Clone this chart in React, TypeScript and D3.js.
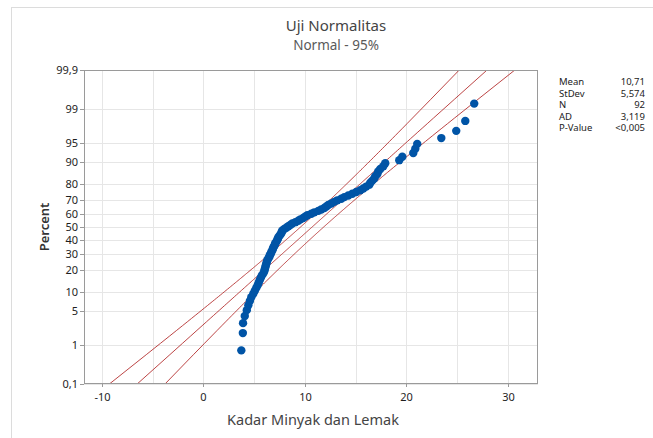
import * as d3 from 'd3';
import React from 'react';

// sample values (Kadar Minyak dan Lemak), sorted
const sampleValues = [
  3.74, 3.91, 3.89, 4.08, 4.28, 4.43, 4.58, 4.72, 4.92, 5.07,
  5.22, 5.36, 5.46, 5.56, 5.66, 5.76, 5.91, 6.0, 6.05, 6.1,
  6.15, 6.2, 6.25, 6.3, 6.4, 6.5, 6.54, 6.64, 6.69, 6.79,
  6.84, 6.89, 6.99, 7.04, 7.09, 7.19, 7.28, 7.33, 7.38, 7.48,
  7.58, 7.68, 7.73, 7.78, 7.97, 8.17, 8.37, 8.56, 8.76, 9.06,
  9.35, 9.55, 9.84, 10.04, 10.24, 10.63, 10.93, 11.32, 11.61, 11.91,
  12.11, 12.3, 12.6, 12.89, 13.19, 13.58, 13.88, 14.27, 14.67, 15.06,
  15.45, 15.75, 16.04, 16.34, 16.44, 16.63, 16.83, 16.93, 17.13, 17.22,
  17.42, 17.72, 17.91, 19.29, 19.59, 20.67, 20.87, 21.06, 23.43, 24.9,
  25.79, 26.67,
];

const fitMean = 10.71;
const fitStDev = 5.574;

const xTicks = [-10, 0, 10, 20, 30];
const xGrid = [-10, -5, 0, 5, 10, 15, 20, 25, 30];
const yTicks = [0.1, 1, 5, 10, 20, 30, 40, 50, 60, 70, 80, 90, 95, 99, 99.9];

const statLabels = ['Mean', 'StDev', 'N', 'AD', 'P-Value'];
const statValues = ['10,71', '5,574', '92', '3,119', '<0,005'];

// inverse normal cdf (Acklam)
function probit(p: number) {
  const a = [-39.6968302866538, 220.946098424521, -275.928510446969, 138.357751867269, -30.6647980661472, 2.50662827745924];
  const b = [-54.4760987982241, 161.585836858041, -155.698979859887, 66.8013118877197, -13.2806815528857];
  const c = [-0.00778489400243029, -0.322396458041136, -2.40075827716184, -2.54973253934373, 4.37466414146497, 2.93816398269878];
  const d = [0.00778469570904146, 0.32246712907004, 2.445134137143, 3.75440866190742];
  const pl = 0.02425;
  let q, r;
  if (p < pl) {
    q = Math.sqrt(-2 * Math.log(p));
    return (((((c[0] * q + c[1]) * q + c[2]) * q + c[3]) * q + c[4]) * q + c[5]) /
      ((((d[0] * q + d[1]) * q + d[2]) * q + d[3]) * q + 1);
  }
  if (p > 1 - pl) {
    q = Math.sqrt(-2 * Math.log(1 - p));
    return -(((((c[0] * q + c[1]) * q + c[2]) * q + c[3]) * q + c[4]) * q + c[5]) /
      ((((d[0] * q + d[1]) * q + d[2]) * q + d[3]) * q + 1);
  }
  q = p - 0.5;
  r = q * q;
  return (((((a[0] * r + a[1]) * r + a[2]) * r + a[3]) * r + a[4]) * r + a[5]) * q /
    (((((b[0] * r + b[1]) * r + b[2]) * r + b[3]) * r + b[4]) * r + 1);
}

const W = 653;
const H = 438;
const plot = { left: 84, right: 538, top: 70, bottom: 384 };

const font = '"Noto Sans", "Open Sans", sans-serif';

export default function App() {
  const x = d3.scaleLinear().domain([-11.75, 32.95]).range([plot.left, plot.right]);
  const y = d3
    .scaleLinear()
    .domain([probit(0.001), probit(0.999)])
    .range([plot.bottom, plot.top]);

  const n = sampleValues.length;
  const sorted = [...sampleValues].sort((a, b) => a - b);
  const points = sorted.map((v, i) => ({ v, z: probit((i + 1 - 0.3) / (n + 0.4)) }));

  // fitted line and 95% confidence band
  const zs = d3.range(0, 201).map(i => probit(0.001 + (0.998 * i) / 200));
  const band = (k: number) =>
    zs.map(z => ({
      z,
      v: fitMean + z * fitStDev + k * 1.96 * fitStDev * Math.sqrt((1 + (z * z) / 2) / n),
    }));
  const line = d3
    .line<{ z: number; v: number }>()
    .x(d => x(d.v))
    .y(d => y(d.z));

  const fmt = (p: number) => String(p).replace('.', ',');

  return (
    <svg
      width={W}
      height={H}
      style={{ position: 'absolute', left: 0, top: 0, background: '#fff' }}
      fontFamily={font}
    >
      <rect x={11.5} y={7.5} width={W + 10} height={H + 10} fill="#fff" stroke="#dcdcdc" />
      <defs>
        <clipPath id="plot-clip">
          <rect x={plot.left} y={plot.top} width={plot.right - plot.left} height={plot.bottom - plot.top} />
        </clipPath>
      </defs>

      <text x={336} y={31} textAnchor="middle" fontSize={15} fill="#444">
        Uji Normalitas
      </text>
      <text x={336} y={50} textAnchor="middle" fontSize={13.5} fill="#5a5a5a">
        Normal - 95%
      </text>

      {/* grid */}
      <g stroke="#e6e6e6" strokeWidth={1}>
        {xGrid.map(t => (
          <line key={'gx' + t} x1={Math.round(x(t)) + 0.5} x2={Math.round(x(t)) + 0.5} y1={plot.top} y2={plot.bottom} />
        ))}
        {yTicks.map(t => (
          <line key={'gy' + t} x1={plot.left} x2={plot.right} y1={Math.round(y(probit(t / 100))) + 0.5} y2={Math.round(y(probit(t / 100))) + 0.5} />
        ))}
      </g>

      {/* fit lines */}
      <g clipPath="url(#plot-clip)" fill="none" stroke="#b02424" strokeWidth={0.85}>
        <path d={line(band(-1)) || ''} />
        <path d={line(band(0)) || ''} />
        <path d={line(band(1)) || ''} />
      </g>

      {/* points */}
      <g fill="#0054a6">
        {points.map((p, i) => (
          <circle key={i} cx={x(p.v)} cy={y(p.z)} r={4.2} />
        ))}
      </g>

      <rect
        x={plot.left + 0.5}
        y={plot.top + 0.5}
        width={plot.right - plot.left - 1}
        height={plot.bottom - plot.top - 1}
        fill="none"
        stroke="#9a9a9a"
      />

      {/* y axis */}
      <g fontSize={11} fill="#1e1e1e" textAnchor="end">
        {yTicks.map(t => {
          const yy = Math.round(y(probit(t / 100))) + 0.5;
          return (
            <g key={'yt' + t}>
              <line x1={plot.left - 4} x2={plot.left} y1={yy} y2={yy} stroke="#9a9a9a" />
              <text x={plot.left - 6} y={yy} dy="0.35em">
                {fmt(t)}
              </text>
            </g>
          );
        })}
      </g>

      {/* x axis */}
      <g fontSize={11} fill="#1e1e1e" textAnchor="middle">
        {xTicks.map(t => {
          const xx = Math.round(x(t)) + 0.5;
          return (
            <g key={'xt' + t}>
              <line x1={xx} x2={xx} y1={plot.bottom} y2={plot.bottom + 3} stroke="#9a9a9a" />
              <text x={xx} y={plot.bottom + 17}>
                {fmt(t)}
              </text>
            </g>
          );
        })}
      </g>

      <text x={313} y={425} textAnchor="middle" fontSize={14.5} fill="#444">
        Kadar Minyak dan Lemak
      </text>
      <text
        transform={`translate(49, ${(plot.top + plot.bottom) / 2}) rotate(-90)`}
        textAnchor="middle"
        fontSize={13}
        fontWeight={600}
        fill="#333"
      >
        Percent
      </text>

      {/* statistics */}
      <g fontSize={9.5} fill="#222">
        {statLabels.map((s, i) => (
          <g key={s}>
            <text x={559} y={85 + i * 11.6}>
              {s}
            </text>
            <text x={645} y={85 + i * 11.6} textAnchor="end">
              {statValues[i]}
            </text>
          </g>
        ))}
      </g>
    </svg>
  );
}
